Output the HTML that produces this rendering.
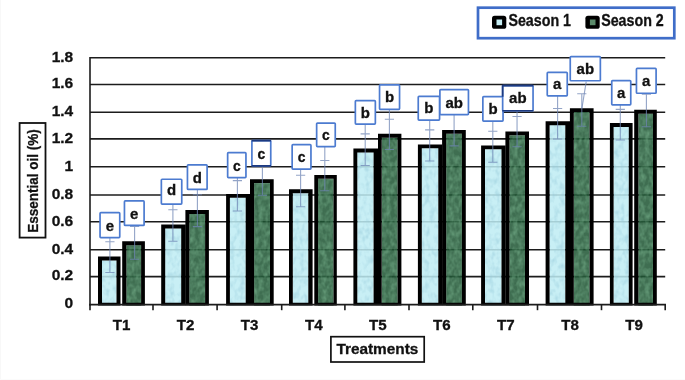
<!DOCTYPE html>
<html><head><meta charset="utf-8"><title>Essential oil chart</title>
<style>
html,body{margin:0;padding:0;background:#fff;}
body{width:685px;height:380px;overflow:hidden;}
svg{display:block;filter:blur(0.4px);font-family:"Liberation Sans",sans-serif;font-weight:bold;}
</style></head><body>
<svg width="685" height="380" viewBox="0 0 685 380">
<defs>
<filter id="tb" x="0" y="0" width="100%" height="100%" filterUnits="objectBoundingBox" color-interpolation-filters="sRGB">
 <feTurbulence type="fractalNoise" baseFrequency="0.2 0.14" numOctaves="2" seed="4" result="n"/>
 <feColorMatrix in="n" type="matrix" values="0 0 0 0 0.60  0 0 0 0 0.80  0 0 0 0 0.86  1.6 0 0 0 -0.68" result="c"/>
 <feComposite in="c" in2="SourceGraphic" operator="in" result="cc"/>
 <feMerge><feMergeNode in="SourceGraphic"/><feMergeNode in="cc"/></feMerge>
</filter>
<filter id="tg" x="0" y="0" width="100%" height="100%" filterUnits="objectBoundingBox" color-interpolation-filters="sRGB">
 <feTurbulence type="fractalNoise" baseFrequency="0.22 0.16" numOctaves="2" seed="9" result="n"/>
 <feColorMatrix in="n" type="matrix" values="0 0 0 0 0.44  0 0 0 0 0.66  0 0 0 0 0.52  1.6 0 0 0 -0.52" result="c"/>
 <feComposite in="c" in2="SourceGraphic" operator="in" result="cc"/>
 <feMerge><feMergeNode in="SourceGraphic"/><feMergeNode in="cc"/></feMerge>
</filter>
<clipPath id="plot"><rect x="0" y="0" width="685" height="305.40000000000003"/></clipPath>
</defs>
<rect x="0" y="0" width="685" height="380" fill="#ffffff"/>
<rect x="0" y="0" width="1" height="380" fill="#f8f8f8"/>
<rect x="0" y="379" width="685" height="1" fill="#fbfbfb"/>

<g stroke="#1c1c1c" stroke-width="1.55" fill="none">
<line x1="90.0" y1="276.60" x2="665.2" y2="276.60"/>
<line x1="90.0" y1="249.70" x2="665.2" y2="249.70"/>
<line x1="90.0" y1="221.80" x2="665.2" y2="221.80"/>
<line x1="90.0" y1="194.90" x2="665.2" y2="194.90"/>
<line x1="90.0" y1="166.80" x2="665.2" y2="166.80"/>
<line x1="90.0" y1="138.85" x2="665.2" y2="138.85"/>
<line x1="90.0" y1="112.20" x2="665.2" y2="112.20"/>
<line x1="90.0" y1="84.40" x2="665.2" y2="84.40"/>
<line x1="90.0" y1="57.80" x2="665.2" y2="57.80"/>
</g>
<g clip-path="url(#plot)">
<rect x="102.00" y="260.50" width="14.50" height="46.10" fill="#bfecf3" fill-opacity="0.86" filter="url(#tb)"/>
<path fill="#000" fill-rule="evenodd" d="M98.00 256.60H120.50V306.6H98.00Z M102.00 260.50V302.70H116.50V260.50Z"/>
<rect x="126.40" y="245.20" width="14.70" height="61.40" fill="#1f5634" fill-opacity="0.86" filter="url(#tg)"/>
<path fill="#000" fill-rule="evenodd" d="M122.20 241.30H144.90V306.6H122.20Z M126.40 245.20V302.70H141.10V245.20Z"/>
<rect x="165.20" y="228.40" width="16.00" height="78.20" fill="#bfecf3" fill-opacity="0.86" filter="url(#tb)"/>
<path fill="#000" fill-rule="evenodd" d="M161.20 224.50H185.70V306.6H161.20Z M165.20 228.40V302.70H181.20V228.40Z"/>
<rect x="189.40" y="213.90" width="15.70" height="92.70" fill="#1f5634" fill-opacity="0.86" filter="url(#tg)"/>
<path fill="#000" fill-rule="evenodd" d="M185.40 210.00H208.90V306.6H185.40Z M189.40 213.90V302.70H205.10V213.90Z"/>
<rect x="229.90" y="197.80" width="15.80" height="108.80" fill="#bfecf3" fill-opacity="0.86" filter="url(#tb)"/>
<path fill="#000" fill-rule="evenodd" d="M226.10 193.90H250.00V306.6H226.10Z M229.90 197.80V302.70H245.70V197.80Z"/>
<rect x="254.10" y="183.10" width="15.90" height="123.50" fill="#1f5634" fill-opacity="0.86" filter="url(#tg)"/>
<path fill="#000" fill-rule="evenodd" d="M250.00 179.20H273.70V306.6H250.00Z M254.10 183.10V302.70H270.00V183.10Z"/>
<rect x="292.80" y="193.20" width="15.50" height="113.40" fill="#bfecf3" fill-opacity="0.86" filter="url(#tb)"/>
<path fill="#000" fill-rule="evenodd" d="M289.00 189.30H312.60V306.6H289.00Z M292.80 193.20V302.70H308.30V193.20Z"/>
<rect x="318.10" y="178.80" width="15.40" height="127.80" fill="#1f5634" fill-opacity="0.86" filter="url(#tg)"/>
<path fill="#000" fill-rule="evenodd" d="M314.30 174.90H336.80V306.6H314.30Z M318.10 178.80V302.70H333.50V178.80Z"/>
<rect x="357.30" y="152.40" width="16.30" height="154.20" fill="#bfecf3" fill-opacity="0.86" filter="url(#tb)"/>
<path fill="#000" fill-rule="evenodd" d="M353.40 148.50H378.00V306.6H353.40Z M357.30 152.40V302.70H373.60V152.40Z"/>
<rect x="381.70" y="137.70" width="15.90" height="168.90" fill="#1f5634" fill-opacity="0.86" filter="url(#tg)"/>
<path fill="#000" fill-rule="evenodd" d="M378.00 133.80H401.40V306.6H378.00Z M381.70 137.70V302.70H397.60V137.70Z"/>
<rect x="421.80" y="148.30" width="16.50" height="158.30" fill="#bfecf3" fill-opacity="0.86" filter="url(#tb)"/>
<path fill="#000" fill-rule="evenodd" d="M417.90 144.40H442.30V306.6H417.90Z M421.80 148.30V302.70H438.30V148.30Z"/>
<rect x="446.20" y="133.80" width="15.70" height="172.80" fill="#1f5634" fill-opacity="0.86" filter="url(#tg)"/>
<path fill="#000" fill-rule="evenodd" d="M442.10 129.90H465.80V306.6H442.10Z M446.20 133.80V302.70H461.90V133.80Z"/>
<rect x="485.00" y="149.30" width="16.50" height="157.30" fill="#bfecf3" fill-opacity="0.86" filter="url(#tb)"/>
<path fill="#000" fill-rule="evenodd" d="M481.10 145.40H505.60V306.6H481.10Z M485.00 149.30V302.70H501.50V149.30Z"/>
<rect x="509.50" y="135.30" width="15.50" height="171.30" fill="#1f5634" fill-opacity="0.86" filter="url(#tg)"/>
<path fill="#000" fill-rule="evenodd" d="M505.40 131.40H529.00V306.6H505.40Z M509.50 135.30V302.70H525.00V135.30Z"/>
<rect x="549.60" y="125.20" width="15.70" height="181.40" fill="#bfecf3" fill-opacity="0.86" filter="url(#tb)"/>
<path fill="#000" fill-rule="evenodd" d="M545.60 121.30H570.00V306.6H545.60Z M549.60 125.20V302.70H565.30V125.20Z"/>
<rect x="573.80" y="112.10" width="15.80" height="194.50" fill="#1f5634" fill-opacity="0.86" filter="url(#tg)"/>
<path fill="#000" fill-rule="evenodd" d="M569.90 108.20H593.60V306.6H569.90Z M573.80 112.10V302.70H589.60V112.10Z"/>
<rect x="613.60" y="127.00" width="15.20" height="179.60" fill="#bfecf3" fill-opacity="0.86" filter="url(#tb)"/>
<path fill="#000" fill-rule="evenodd" d="M609.90 123.10H632.60V306.6H609.90Z M613.60 127.00V302.70H628.80V127.00Z"/>
<rect x="638.40" y="113.70" width="14.60" height="192.90" fill="#1f5634" fill-opacity="0.86" filter="url(#tg)"/>
<path fill="#000" fill-rule="evenodd" d="M634.20 109.80H656.80V306.6H634.20Z M638.40 113.70V302.70H653.00V113.70Z"/>
</g>
<g stroke="#1c1c1c" stroke-width="1.6" fill="none">
<line x1="90.0" y1="57.05" x2="90.0" y2="305.40000000000003"/>
<line x1="89.2" y1="304.6" x2="666.0" y2="304.6"/>
<line x1="90.00" y1="304.6" x2="90.00" y2="310.20000000000005"/>
<line x1="153.00" y1="304.6" x2="153.00" y2="310.20000000000005"/>
<line x1="217.10" y1="304.6" x2="217.10" y2="310.20000000000005"/>
<line x1="281.70" y1="304.6" x2="281.70" y2="310.20000000000005"/>
<line x1="344.90" y1="304.6" x2="344.90" y2="310.20000000000005"/>
<line x1="409.00" y1="304.6" x2="409.00" y2="310.20000000000005"/>
<line x1="472.80" y1="304.6" x2="472.80" y2="310.20000000000005"/>
<line x1="537.50" y1="304.6" x2="537.50" y2="310.20000000000005"/>
<line x1="601.50" y1="304.6" x2="601.50" y2="310.20000000000005"/>
<line x1="665.20" y1="304.6" x2="665.20" y2="310.20000000000005"/>
</g>
<g stroke="#6f86b4" stroke-opacity="0.75" stroke-width="1.1" fill="none">
<path d="M109.90 237.50V272.50M105.30 241.80h9.2M105.30 272.50h9.2"/>
<path d="M134.60 225.30V259.20M130.00 226.50h9.2M130.00 259.20h9.2"/>
<path d="M172.90 204.00V241.30M168.30 209.70h9.2M168.30 241.30h9.2"/>
<path d="M197.40 189.30V226.60M192.80 194.70h9.2M192.80 226.60h9.2"/>
<path d="M237.40 177.50V211.00M232.80 180.60h9.2M232.80 211.00h9.2"/>
<path d="M262.40 164.00V195.30M257.80 164.00h9.2M257.80 195.30h9.2"/>
<path d="M300.60 169.00V206.70M296.00 175.30h9.2M296.00 206.70h9.2"/>
<path d="M324.80 146.50V190.75M320.20 160.50h9.2M320.20 190.75h9.2"/>
<path d="M365.20 124.00V165.50M360.60 133.90h9.2M360.60 165.50h9.2"/>
<path d="M389.40 109.20V149.50M384.80 119.20h9.2M384.80 149.50h9.2"/>
<path d="M429.70 120.00V161.00M425.10 129.90h9.2M425.10 161.00h9.2"/>
<path d="M454.10 114.50V145.90M449.50 114.50h9.2M449.50 145.90h9.2"/>
<path d="M492.80 121.00V162.30M488.20 131.20h9.2M488.20 162.30h9.2"/>
<path d="M517.05 110.60V146.70M512.45 116.50h9.2M512.45 146.70h9.2"/>
<path d="M557.60 95.70V139.00M553.00 108.50h9.2M553.00 139.00h9.2"/>
<path d="M581.80 93.80V126.25M577.20 93.80h9.2M577.20 126.25h9.2"/>
<path d="M620.30 104.70V140.00M615.70 109.40h9.2M615.70 140.00h9.2"/>
<path d="M646.40 93.10V126.70M641.80 94.30h9.2M641.80 126.70h9.2"/>
<path d="M586.2 81.6L582 108"/>
</g>
<rect x="100.05" y="212.65" width="19.70" height="25.00" fill="#fff" stroke="#4c7bd0" stroke-width="1.7" rx="0.8"/>
<text transform="translate(109.90,230.70) scale(1.04,1)" font-size="14.4" text-anchor="middle" fill="#111" stroke="#111" stroke-width="0.3">e</text>
<rect x="161.35" y="179.25" width="20.40" height="24.90" fill="#fff" stroke="#4c7bd0" stroke-width="1.7" rx="0.8"/>
<text transform="translate(171.55,195.30) scale(1.04,1)" font-size="14.4" text-anchor="middle" fill="#111" stroke="#111" stroke-width="0.3">d</text>
<rect x="227.65" y="152.65" width="18.30" height="25.00" fill="#fff" stroke="#4c7bd0" stroke-width="1.7" rx="0.8"/>
<text transform="translate(236.80,170.50) scale(0.96,1)" font-size="14.4" text-anchor="middle" fill="#111" stroke="#111" stroke-width="0.3">c</text>
<rect x="292.15" y="144.65" width="18.80" height="24.50" fill="#fff" stroke="#4c7bd0" stroke-width="1.7" rx="0.8"/>
<text transform="translate(301.55,162.40) scale(0.96,1)" font-size="14.4" text-anchor="middle" fill="#111" stroke="#111" stroke-width="0.3">c</text>
<rect x="355.35" y="100.65" width="20.00" height="23.50" fill="#fff" stroke="#4c7bd0" stroke-width="1.7" rx="0.8"/>
<text transform="translate(365.35,117.60) scale(1.04,1)" font-size="14.4" text-anchor="middle" fill="#111" stroke="#111" stroke-width="0.3">b</text>
<rect x="418.25" y="96.45" width="21.30" height="23.70" fill="#fff" stroke="#4c7bd0" stroke-width="1.7" rx="0.8"/>
<text transform="translate(428.90,112.90) scale(1.04,1)" font-size="14.4" text-anchor="middle" fill="#111" stroke="#111" stroke-width="0.3">b</text>
<rect x="482.85" y="96.65" width="20.20" height="24.50" fill="#fff" stroke="#4c7bd0" stroke-width="1.7" rx="0.8"/>
<text transform="translate(492.95,114.20) scale(1.04,1)" font-size="14.4" text-anchor="middle" fill="#111" stroke="#111" stroke-width="0.3">b</text>
<rect x="547.25" y="72.45" width="20.00" height="23.40" fill="#fff" stroke="#4c7bd0" stroke-width="1.7" rx="0.8"/>
<text transform="translate(557.25,88.70) scale(1.04,1)" font-size="14.4" text-anchor="middle" fill="#111" stroke="#111" stroke-width="0.3">a</text>
<rect x="611.75" y="80.55" width="19.00" height="24.30" fill="#fff" stroke="#4c7bd0" stroke-width="1.7" rx="0.8"/>
<text transform="translate(621.25,97.60) scale(1.04,1)" font-size="14.4" text-anchor="middle" fill="#111" stroke="#111" stroke-width="0.3">a</text>
<rect x="124.45" y="200.85" width="19.65" height="24.60" fill="#fff" stroke="#4c7bd0" stroke-width="1.7" rx="0.8"/>
<text transform="translate(134.27,218.60) scale(1.04,1)" font-size="14.4" text-anchor="middle" fill="#111" stroke="#111" stroke-width="0.3">e</text>
<rect x="187.45" y="164.85" width="19.65" height="24.60" fill="#fff" stroke="#4c7bd0" stroke-width="1.7" rx="0.8"/>
<text transform="translate(197.27,182.60) scale(1.04,1)" font-size="14.4" text-anchor="middle" fill="#111" stroke="#111" stroke-width="0.3">d</text>
<rect x="251.90" y="140.55" width="18.85" height="25.30" fill="#fff" stroke="#4c7bd0" stroke-width="1.7" rx="0.8"/>
<path d="M251.55 140.55H271.10M251.55 165.85H271.10" stroke="#1d3a80" stroke-width="1.7" fill="none"/>
<text transform="translate(261.33,158.60) scale(0.96,1)" font-size="14.4" text-anchor="middle" fill="#111" stroke="#111" stroke-width="0.3">c</text>
<rect x="316.65" y="123.05" width="18.60" height="23.60" fill="#fff" stroke="#4c7bd0" stroke-width="1.7" rx="0.8"/>
<text transform="translate(325.95,139.90) scale(0.96,1)" font-size="14.4" text-anchor="middle" fill="#111" stroke="#111" stroke-width="0.3">c</text>
<rect x="379.55" y="84.85" width="20.00" height="24.50" fill="#fff" stroke="#4c7bd0" stroke-width="1.7" rx="0.8"/>
<text transform="translate(389.55,102.40) scale(1.04,1)" font-size="14.4" text-anchor="middle" fill="#111" stroke="#111" stroke-width="0.3">b</text>
<rect x="439.90" y="89.55" width="28.55" height="25.10" fill="#fff" stroke="#4c7bd0" stroke-width="1.7" rx="0.8"/>
<text transform="translate(454.18,107.70) scale(1.04,1)" font-size="14.4" text-anchor="middle" fill="#111" stroke="#111" stroke-width="0.3">ab</text>
<rect x="502.65" y="85.55" width="30.40" height="25.20" fill="#fff" stroke="#4c7bd0" stroke-width="1.7" rx="0.8"/>
<path d="M502.65 96.70V85.55H533.40M502.30 110.75H533.40" stroke="#1d3a80" stroke-width="1.7" fill="none"/>
<text transform="translate(517.85,103.40) scale(1.04,1)" font-size="14.4" text-anchor="middle" fill="#111" stroke="#111" stroke-width="0.3">ab</text>
<rect x="570.25" y="56.65" width="30.10" height="24.10" fill="#fff" stroke="#4c7bd0" stroke-width="1.7" rx="0.8"/>
<text transform="translate(585.30,74.00) scale(1.04,1)" font-size="14.4" text-anchor="middle" fill="#111" stroke="#111" stroke-width="0.3">ab</text>
<rect x="636.45" y="68.35" width="19.65" height="24.90" fill="#fff" stroke="#4c7bd0" stroke-width="1.7" rx="0.8"/>
<text transform="translate(646.28,85.70) scale(1.04,1)" font-size="14.4" text-anchor="middle" fill="#111" stroke="#111" stroke-width="0.3">a</text>
<text x="73.2" y="308.40" font-size="15.5" text-anchor="end" fill="#111" stroke="#111" stroke-width="0.3">0</text>
<text x="73.2" y="280.40" font-size="15.5" text-anchor="end" fill="#111" stroke="#111" stroke-width="0.3">0.2</text>
<text x="73.2" y="253.50" font-size="15.5" text-anchor="end" fill="#111" stroke="#111" stroke-width="0.3">0.4</text>
<text x="73.2" y="225.60" font-size="15.5" text-anchor="end" fill="#111" stroke="#111" stroke-width="0.3">0.6</text>
<text x="73.2" y="198.70" font-size="15.5" text-anchor="end" fill="#111" stroke="#111" stroke-width="0.3">0.8</text>
<text x="73.2" y="170.60" font-size="15.5" text-anchor="end" fill="#111" stroke="#111" stroke-width="0.3">1</text>
<text x="73.2" y="142.65" font-size="15.5" text-anchor="end" fill="#111" stroke="#111" stroke-width="0.3">1.2</text>
<text x="73.2" y="116.00" font-size="15.5" text-anchor="end" fill="#111" stroke="#111" stroke-width="0.3">1.4</text>
<text x="73.2" y="88.20" font-size="15.5" text-anchor="end" fill="#111" stroke="#111" stroke-width="0.3">1.6</text>
<text x="73.2" y="61.60" font-size="15.5" text-anchor="end" fill="#111" stroke="#111" stroke-width="0.3">1.8</text>
<text x="121.56" y="329.5" font-size="15.1" text-anchor="middle" fill="#111" stroke="#111" stroke-width="0.3">T1</text>
<text x="185.62" y="329.5" font-size="15.1" text-anchor="middle" fill="#111" stroke="#111" stroke-width="0.3">T2</text>
<text x="249.68" y="329.5" font-size="15.1" text-anchor="middle" fill="#111" stroke="#111" stroke-width="0.3">T3</text>
<text x="313.74" y="329.5" font-size="15.1" text-anchor="middle" fill="#111" stroke="#111" stroke-width="0.3">T4</text>
<text x="377.80" y="329.5" font-size="15.1" text-anchor="middle" fill="#111" stroke="#111" stroke-width="0.3">T5</text>
<text x="441.86" y="329.5" font-size="15.1" text-anchor="middle" fill="#111" stroke="#111" stroke-width="0.3">T6</text>
<text x="505.92" y="329.5" font-size="15.1" text-anchor="middle" fill="#111" stroke="#111" stroke-width="0.3">T7</text>
<text x="569.98" y="329.5" font-size="15.1" text-anchor="middle" fill="#111" stroke="#111" stroke-width="0.3">T8</text>
<text x="634.04" y="329.5" font-size="15.1" text-anchor="middle" fill="#111" stroke="#111" stroke-width="0.3">T9</text>
<rect x="330.9" y="336.7" width="93.3" height="25.3" fill="#fff" stroke="#111" stroke-width="1.7"/>
<text x="336.4" y="354.3" font-size="15.2" fill="#111" stroke="#111" stroke-width="0.3" textLength="82" lengthAdjust="spacingAndGlyphs">Treatments</text>
<rect x="19.6" y="123.0" width="25.9" height="114.6" fill="#fff" stroke="#111" stroke-width="1.8"/>
<text transform="translate(37.9,232.8) rotate(-90)" font-size="15.5" fill="#111" stroke="#111" stroke-width="0.3" textLength="103.5" lengthAdjust="spacingAndGlyphs">Essential oil (%)</text>
<rect x="478.0" y="7.7" width="196.3" height="30.5" fill="#fff" stroke="#3f6dc8" stroke-width="2.7"/>
<rect x="492" y="15.7" width="14.3" height="13.1" rx="2.6" fill="#000"/>
<rect x="496.5" y="19.5" width="5.6" height="5.7" fill="#c6edf3"/>
<text x="508.4" y="26.4" font-size="15.6" fill="#111" stroke="#111" stroke-width="0.3" textLength="62.6" lengthAdjust="spacingAndGlyphs">Season 1</text>
<rect x="585.4" y="15.7" width="14.3" height="13.1" rx="2.6" fill="#000"/>
<rect x="589.9" y="19.5" width="5.6" height="5.7" fill="#5a8a6a"/>
<text x="601.2" y="26.4" font-size="15.6" fill="#111" stroke="#111" stroke-width="0.3" textLength="62.6" lengthAdjust="spacingAndGlyphs">Season 2</text>
</svg></body></html>
